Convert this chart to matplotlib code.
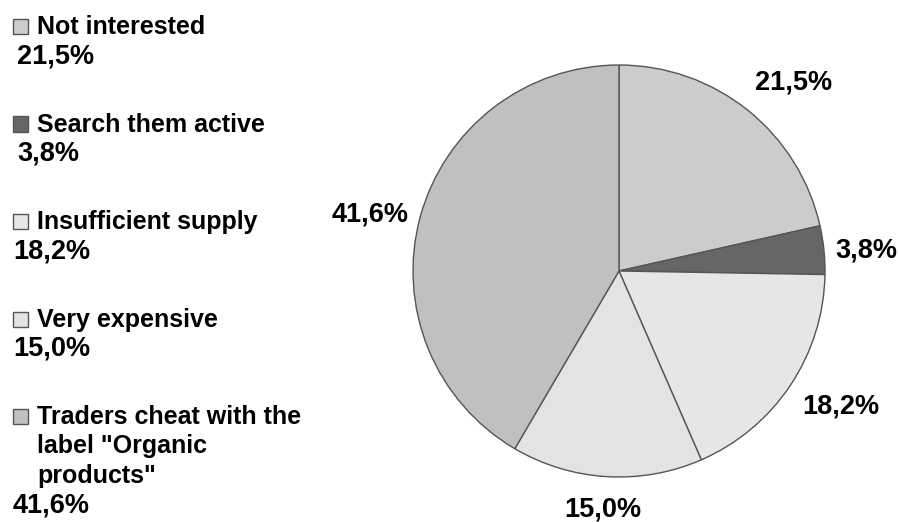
import matplotlib.pyplot as plt
from matplotlib.patches import Rectangle

# %% data
categories = ['Not interested', 'Search them active', 'Insufficient supply',
              'Very expensive', 'Traders cheat with the\nlabel "Organic\nproducts"']
shares = [21.5, 3.8, 18.2, 15.0, 41.6]
pct_labels = ['21,5%', '3,8%', '18,2%', '15,0%', '41,6%']
colors = ['#cccccc', '#666666', '#e6e6e6', '#e3e3e3', '#c0c0c0']

plt.rcParams['font.family'] = ['Liberation Sans', 'DejaVu Sans']
plt.rcParams['font.weight'] = 'bold'

W, H = 898, 522
fig = plt.figure(figsize=(W / 100, H / 100), dpi=100)

# %% pie
cx, cy, r = 619, 271, 206
ax = fig.add_axes([(cx - r) / W, (H - cy - r) / H, 2 * r / W, 2 * r / H])
ax.pie(shares, colors=colors, startangle=90, counterclock=False,
       wedgeprops=dict(edgecolor='#555555', linewidth=1.0))
ax.set_xlim(-1, 1)
ax.set_ylim(-1, 1)
ax.axis('off')

# label spots around the pie (axes data units)
label_xy = [(0.845, 0.927), (1.199, 0.112), (1.078, -0.646),
            (-0.078, -1.145), (-1.209, 0.286)]
for (x, y), txt in zip(label_xy, pct_labels):
    ax.text(x, y - 0.048, txt, ha='center', va='baseline', fontsize=19.5,
            fontweight='bold', clip_on=False)

# %% legend (drawn by hand, figure pixels from top)
line_h = 29.5
base = 34
for i, (cat, col, pct) in enumerate(zip(categories, colors, pct_labels)):
    y0 = base + 97.5 * i
    sq = Rectangle((13 / W, 1 - (y0) / H), 15 / W, 15 / H,
                   transform=fig.transFigure, facecolor=col,
                   edgecolor='#555555', linewidth=1.0)
    fig.patches.append(sq)
    lines = cat.split('\n')
    for j, ln in enumerate(lines):
        fig.text(37 / W, 1 - (y0 + j * line_h) / H, ln, fontsize=18,
                 fontweight='bold', va='baseline', ha='left')
    px = 17 if i < 2 else 13
    fig.text(px / W, 1 - (y0 + len(lines) * line_h) / H, pct, fontsize=19.5,
             fontweight='bold', va='baseline', ha='left')

fig.savefig('out.png', dpi=100, facecolor='white')
